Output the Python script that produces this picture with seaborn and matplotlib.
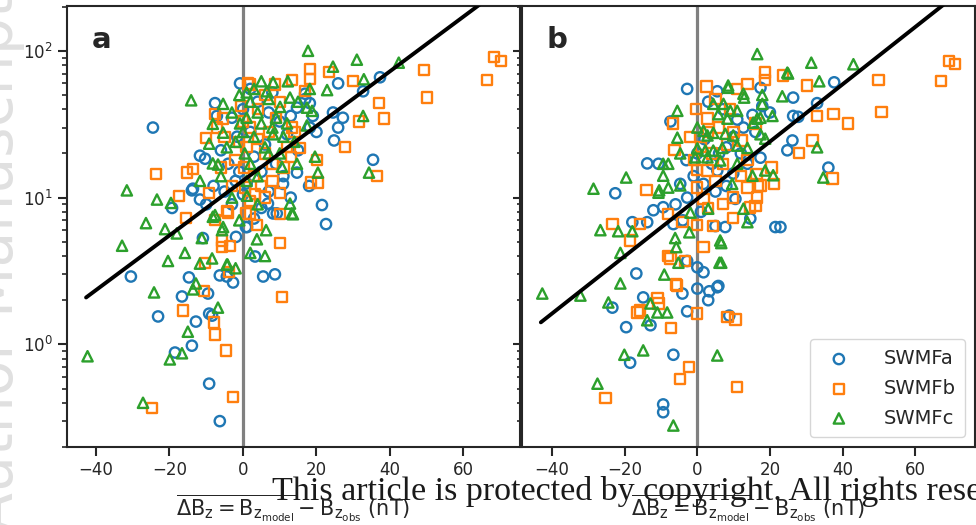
import numpy as np
import matplotlib
matplotlib.use("Agg")
import matplotlib.pyplot as plt
import seaborn as sns

# Modelle und Darstellung
models = ["SWMFa", "SWMFb", "SWMFc"]
colors = ["#1f77b4", "#ff7f0e", "#2ca02c"]
markers = ["o", "s", "^"]

# Panel a: (dBz in nT, Wert)
a_swmfa = [(-24.5, 30), (-30.5, 2.9), (-14.7, 2.86), (-16.6, 2.12), (-23.1, 1.55), (-12.8, 1.43),
           (-9.5, 2.22), (-9.2, 1.62), (-13.9, 0.98), (-18.5, 0.88), (-9.2, 0.54), (-6.3, 0.3),
           (-6.3, 2.95), (-4.4, 2.9), (-2.7, 2.64), (5.5, 2.9), (8.7, 3.0), (3.3, 3.97), (22.6, 6.6),
           (21.5, 8.9), (1.1, 6.3), (-1.9, 5.4), (-10.9, 5.3), (8.2, 7.8), (9.2, 7.8), (-19.3, 8.5),
           (-8.4, 1.57), (-0.8, 60), (25.9, 60), (-7.6, 44), (32.7, 53), (24.5, 38), (27.2, 35),
           (24.8, 24.5), (-11.7, 19.3), (-10.3, 18.4), (-1.6, 26), (14.7, 41), (18.2, 44), (16.9, 51),
           (14.7, 14.8), (10.9, 12.4), (-13.6, 11.5), (6.8, 9.1), (37.3, 66), (35.4, 18.1), (18.2, 30),
           (25.9, 30), (-13.9, 11.2), (-11.7, 9.7), (-7.1, 36), (0.8, 6.3),
           (4, 45), (7, 38), (10, 33), (2, 28), (12, 27), (6, 23), (15, 21), (3, 19), (9, 17), (5, 15),
           (11, 14), (1, 12.5), (7, 11), (-2, 13), (-4, 17), (-6, 21), (13, 36), (17, 47), (0, 10.5),
           (13, 10), (-3, 9), (5, 8.5), (18, 12), (20, 28), (-1, 15), (3, 7.2), (-5, 11), (-8, 12),
           (-10, 9), (19, 36), (8, 52), (-3, 35), (0, 40), (2, 55)]
a_swmfb = [(-24.8, 0.37), (-2.7, 0.44), (-4.6, 0.91), (-7.9, 1.41), (-7.6, 1.17), (-16.3, 1.7),
           (-10.6, 2.3), (-3.8, 3.1), (-23.7, 14.5), (-17.4, 10.2), (-15.5, 7.3), (-15.2, 14.8),
           (-13.6, 15.7), (-10.1, 25.6), (-7.6, 37), (-5.4, 34.5), (-0.5, 42), (1.4, 60), (-9.2, 10.8),
           (-5.7, 4.6), (-3.5, 4.7), (-4.4, 8.1), (-7.6, 7.0), (0.8, 7.8), (0.5, 11.7), (0.3, 16),
           (-10.3, 3.6), (10.1, 4.9), (10.6, 2.1), (3.8, 6.5), (1.9, 7.8), (10.1, 7.7), (-4.1, 7.9),
           (-5.7, 5.1), (68.3, 91), (70.2, 85), (66.4, 63), (49.3, 74), (50, 48), (37, 44), (38.4, 34.5),
           (31.6, 33), (27.8, 22), (30, 62), (18.2, 75), (18.2, 64), (23.4, 72), (20.1, 18), (18.5, 12.7),
           (20.4, 12.7), (36.5, 14.1), (10.1, 10.7), (1.9, 59), (8.7, 59), (13.3, 63), (16.9, 53),
           (3.3, 10.6), (15.5, 21.8), (13.3, 30),
           (2, 30), (4, 25), (6, 20), (8, 17), (3, 14), (5, 12), (1, 22), (7, 28), (9, 35), (10, 45),
           (12, 22), (11, 16), (13, 19), (-2, 18), (-1, 24), (0, 33), (4, 40), (6, 50), (14, 28),
           (2, 9.5), (6, 10), (-3, 12), (8, 13), (-5, 26), (-7, 30), (-6, 16)]
a_swmfc = [(-42.3, 0.83), (-27.2, 0.40), (-16.6, 0.87), (-19.9, 0.79), (-15, 1.22), (-12.8, 2.6),
           (-13.6, 2.37), (-24.2, 2.26), (-6.8, 1.78), (-4.2, 3.5), (-31.6, 11.2), (-23.4, 9.7),
           (-19.6, 9.2), (-26.4, 6.7), (-21.2, 6.1), (-18, 5.7), (-32.9, 4.7), (-15.8, 4.2), (-14.1, 46),
           (-11.7, 13), (-9.2, 23.3), (-8.2, 31.8), (-5.4, 43.5), (-5.4, 27.7), (-8.2, 17.1),
           (-6.8, 16.8), (-4.4, 22), (-7.6, 7.6), (-5.4, 6.3), (-11.2, 5.3), (-0.8, 32), (1, 52),
           (0.5, 20), (1.1, 10.3), (-20.4, 3.7), (-11.7, 3.55), (-8.4, 3.85), (-4.4, 3.5), (-5.7, 6.0),
           (-8.2, 7.4), (3.8, 5.2), (6, 4.0), (6.3, 6.0), (13.6, 7.7), (12.8, 9.1), (17.7, 100), (31, 87),
           (42.4, 83), (24.5, 78), (32.9, 64), (22.9, 54), (32.7, 36), (19.6, 19), (20.4, 14.8),
           (34.3, 14.8), (14.7, 17), (10.6, 16.2), (13.3, 7.8), (12.2, 62), (8.2, 61), (18.2, 55),
           (17.4, 41), (18.8, 39), (10.1, 41.5), (6.5, 53), (12.8, 48), (17.4, 31), (8.2, 27),
           (2, 45), (4, 38), (5, 32), (3, 26), (6, 22), (8, 30), (7, 47), (9, 35), (11, 26), (2, 17),
           (4, 14), (0, 28), (-2, 24), (-3, 38), (1, 35), (3, 55), (5, 62), (7, 20), (10, 20), (12, 32),
           (14, 24), (15, 45), (-1, 50), (-6, 14), (-3, 10), (1, 13), (-1, 7), (4, 9), (2, 4.2), (-2, 3.3)]

# Panel b
b_swmfa = [(-16.8, 3.04), (-14.9, 2.09), (-23.4, 1.78), (-19.6, 1.31), (-12.9, 1.35), (-4.1, 2.22),
           (-2.8, 1.68), (0, 2.4), (0, 3.35), (1.7, 3.1), (3, 2.0), (5.8, 2.5), (8.8, 1.57), (-18.5, 0.75),
           (-6.6, 0.85), (-9.4, 0.39), (-9.4, 0.345), (-2.8, 55), (-7.4, 33), (-13.8, 17.1), (-10.7, 17),
           (-22.6, 10.7), (-12.1, 8.2), (-9.4, 8.6), (-17.9, 6.8), (-13.8, 6.8), (3.3, 2.3), (5.5, 2.45),
           (-2.8, 3.7), (21.5, 6.3), (22.9, 6.3), (5, 6.4), (7.7, 6.3), (-6.6, 6.6), (37.7, 61),
           (26.4, 48), (33, 44), (26.4, 36), (27.8, 35.5), (26.2, 24.5), (24.8, 21), (36.1, 16),
           (17.4, 56), (17.9, 42), (15.2, 36.6), (14.6, 7.2), (17.4, 18.7), (12.7, 30), (13.8, 17),
           (9.9, 14.6), (5.5, 15.3), (1.7, 12.4), (-4.7, 12.4), (-2.8, 10), (10.5, 9.8), (5.5, 53),
           (2, 25), (6, 20), (4, 17), (8, 22), (10, 26), (11, 34), (7, 40), (3, 45), (0, 20), (-1, 14),
           (-3, 18), (5, 11), (8, 12), (-6, 9), (1, 8), (-4, 7), (12, 20), (16, 28), (20, 38)]
b_swmfb = [(-25.3, 0.43), (-4.7, 0.58), (-2.2, 0.70), (11, 0.51), (-7.2, 1.3), (-5.8, 2.56), (0, 1.62),
           (8.3, 1.53), (10.5, 1.48), (-16.5, 1.65), (-15.7, 1.7), (-11, 2.06), (-10.7, 1.9), (2.5, 57),
           (-0.3, 40), (-6.6, 32), (-6.3, 21), (-14, 11.3), (-23.4, 6.6), (-15.7, 6.6), (-18.5, 5.1),
           (1.7, 4.6), (-8, 7.7), (-4.1, 6.8), (0, 15.5), (2.8, 15.3), (13.8, 59.5), (-8, 4.0),
           (-7.4, 3.84), (-3.3, 3.7), (-5.5, 2.52), (4.4, 6.4), (9.9, 7.3), (14.6, 8.55), (16, 8.8),
           (69.4, 85), (71, 81), (67.2, 62), (49.9, 63), (50.7, 38.5), (37.5, 37), (41.6, 32), (33, 36),
           (30.3, 58), (23.7, 68), (18.7, 71), (18.7, 63), (31.7, 24.5), (28.1, 20.2), (37.2, 13.5),
           (20.4, 16), (21.2, 12.4), (16.8, 12), (16.5, 10), (5, 47), (11, 55), (2.8, 34.5), (16, 32),
           (8.3, 23), (12.4, 24.5), (13.8, 18), (16.3, 14.5), (17.4, 12.1), (13.8, 11.7), (9.9, 10),
           (0, 11.7), (1.7, 9.8),
           (3, 28), (6, 30), (9, 40), (4, 20), (7, 17), (1, 22), (-2, 26), (10, 28), (5, 13), (12, 14),
           (-1, 18), (3, 8.5), (7, 9), (0, 6.5)]
b_swmfc = [(-42.7, 2.22), (-32.2, 2.15), (-24.5, 1.93), (-21.2, 2.6), (-9.1, 2.99), (-12.9, 1.9),
           (-13.8, 1.46), (-11, 1.65), (-8.3, 1.65), (-20.1, 0.85), (-14.9, 0.91), (-27.5, 0.54),
           (-6.6, 0.28), (5.5, 0.84), (6.1, 3.6), (-5.5, 39), (-5.5, 25.6), (-19.6, 13.7), (-28.6, 11.5),
           (-26.7, 6.0), (-21.8, 5.9), (-17.9, 5.9), (-21.2, 4.2), (-1.9, 7.9), (3, 8.4), (6.3, 5.1),
           (-6.1, 5.3), (8.5, 56), (-9.4, 17), (-8, 17), (-4.7, 20), (-9.4, 14.1), (-10.5, 11.2),
           (-8, 11.7), (-5.8, 4.6), (-5.2, 3.6), (-2.2, 5.8), (6.6, 4.9), (6.6, 3.6), (13.8, 6.8),
           (12.7, 8.4), (16.5, 95), (31.4, 83), (43, 81), (24.8, 71), (33.6, 62), (23.4, 49), (17.9, 50),
           (12.9, 48), (20.7, 36), (17.4, 35), (15.4, 32.4), (17.4, 27), (33, 22), (34.7, 13.7),
           (18.7, 15.3), (20.9, 14.2), (15.2, 14.1), (25, 70), (17.9, 43.5), (12.7, 51), (8.5, 58),
           (7.2, 43.5), (9.1, 39), (11, 39), (16.5, 34.5), (4.4, 43.5), (5.8, 37), (8.3, 34.5), (0, 30),
           (1.7, 28.5), (2.8, 26.5), (4.4, 27.6), (7.7, 27.2), (9.9, 26.5), (18.7, 25.2), (0, 21.6),
           (2.2, 20.9), (4.4, 20.9), (6.9, 21.8), (11, 22.6), (13.8, 21.8), (-0.6, 18.8), (2.8, 18.8),
           (6.3, 17.9), (11, 17), (9.6, 12.4), (-10.7, 10.8), (-4.7, 12.1)]

# Regressionsgerade: log10(y) = steigung * x + achsenabschnitt, gezeichnet ab x_start
fit_a = (0.01863, 1.115, -42.7)
fit_b = (0.01951, 0.991, -43.1)

xlim_a = (-47.9, 75.4)
xlim_b = (-48.3, 76.5)
ylim = (0.2, 202)
xticks = [-40, -20, 0, 20, 40, 60]

sns.set_style("ticks")
plt.rcParams["font.family"] = ["DejaVu Sans"]
plt.rcParams["mathtext.fontset"] = "dejavusans"

fig = plt.figure(figsize=(9.76, 5.25), dpi=100)
ax_a = fig.add_axes([0.0686, 0.1486, 0.4642, 0.84])
ax_b = fig.add_axes([0.5348, 0.1486, 0.4642, 0.84])

xlabel = r"$\overline{\Delta \mathrm{B_z} = \mathrm{B}_{\mathrm{z}_{\mathrm{model}}}} - \mathrm{B}_{\mathrm{z}_{\mathrm{obs}}}$ (nT)"

panels = [(ax_a, [a_swmfa, a_swmfb, a_swmfc], fit_a, xlim_a, "a"),
          (ax_b, [b_swmfa, b_swmfb, b_swmfc], fit_b, xlim_b, "b")]

for ax, series, fit, xlim, tag in panels:
    ax.axvline(0, color="#808080", lw=2.3, zorder=1)
    for pts, name, col, mk in zip(series, models, colors, markers):
        arr = np.array(pts)
        sns.scatterplot(x=arr[:, 0], y=arr[:, 1], ax=ax, marker=mk, s=55,
                        facecolors="none", edgecolor=col, linewidth=1.7,
                        label=name, zorder=2, legend=False)
    slope, inter, x0 = fit
    xs = np.array([x0, xlim[1]])
    ax.plot(xs, 10 ** (slope * xs + inter), color="black", lw=2.8, zorder=3)

    ax.set_yscale("log")
    ax.set_xlim(xlim)
    ax.set_ylim(ylim)
    ax.set_xticks(xticks)
    ax.set_xlabel(xlabel, fontsize=15, labelpad=10)
    ax.text(0.055, 0.955, tag, transform=ax.transAxes, fontsize=21,
            fontweight="bold", va="top", ha="left")
    ax.tick_params(which="major", length=6.5, width=1.5, labelsize=12)
    ax.tick_params(which="minor", length=3.5, width=1.2)
    for sp in ax.spines.values():
        sp.set_linewidth(1.5)
        sp.set_visible(True)

ax_b.tick_params(axis="y", which="both", labelleft=False)
ax_b.legend(loc="lower right", fontsize=14, handletextpad=1.3, labelspacing=0.55,
            scatterpoints=1, borderpad=0.5, bbox_to_anchor=(1.0, 0.0))

# Wasserzeichen
fig.text(-0.004, 0.5, "Author Manuscript", rotation=90, fontsize=42,
         color="#e0e0e0", ha="center", va="center", zorder=0)
fig.text(0.279, 0.047, "This article is protected by copyright. All rights reserved",
         family=["Liberation Serif", "DejaVu Serif"], fontsize=24.5, color="#1a1a1a",
         ha="left", va="baseline")

fig.savefig("out.png", dpi=100)
